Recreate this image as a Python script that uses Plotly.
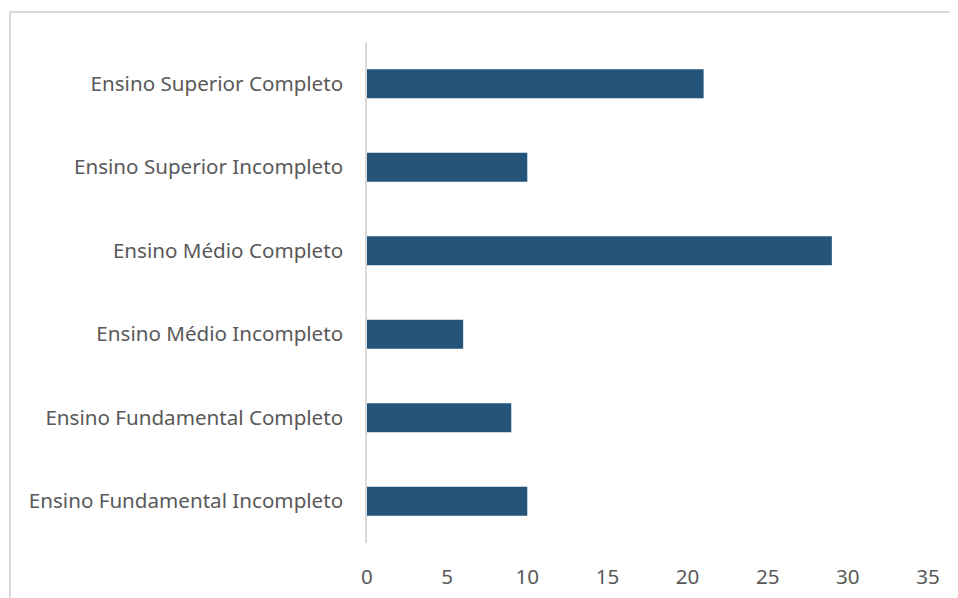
import plotly.graph_objects as go

categories = [
    "Ensino Fundamental Incompleto",
    "Ensino Fundamental Completo",
    "Ensino Médio Incompleto",
    "Ensino Médio Completo",
    "Ensino Superior Incompleto",
    "Ensino Superior Completo",
]
values = [10, 9, 6, 29, 10, 21]
x_ticks = [0, 5, 10, 15, 20, 25, 30, 35]

# page body has an 8px margin, so the figure is sized/offset accordingly
OFF = 8
W, H = 958 - OFF, 598 - OFF
ml, mr, mt, mb = 367 - OFF, 30, 42 - OFF, 55

fig = go.Figure(go.Bar(
    y=categories, x=values, orientation="h",
    marker=dict(color="#245479", line=dict(width=0)),
    width=0.35,
))

font = dict(family="Noto Sans", size=20.6, color="#595959")
fig.update_layout(
    width=W, height=H,
    margin=dict(l=ml, r=mr, t=mt, b=mb, pad=0, autoexpand=False),
    paper_bgcolor="white", plot_bgcolor="white",
    font=font, showlegend=False,
    xaxis=dict(range=[0, 35], tickvals=x_ticks, showgrid=False, zeroline=False,
               showline=False, ticks="outside", ticklen=15, tickcolor="rgba(0,0,0,0)",
               tickfont=font, fixedrange=True, automargin=False),
    yaxis=dict(showgrid=False, zeroline=False, showline=True, linecolor="#d9d9d9",
               linewidth=1.5, ticks="outside", ticklen=18, tickcolor="rgba(0,0,0,0)",
               tickfont=font, range=[-0.5, 5.5], fixedrange=True, automargin=False),
)

# chart frame (left and top edges visible)
pw, ph = W - ml - mr, H - mt - mb
fx0 = (10 - OFF - ml) / pw
fy_top = (H - (12 - OFF) - mb) / ph
fig.add_shape(type="line", xref="paper", yref="paper", x0=fx0, x1=(W - ml) / pw + 0.05,
              y0=fy_top, y1=fy_top, line=dict(color="#d9d9d9", width=2))
fig.add_shape(type="line", xref="paper", yref="paper", x0=fx0, x1=fx0,
              y0=fy_top, y1=-mb / ph - 0.05, line=dict(color="#d9d9d9", width=2))

fig.write_html("out.html")
